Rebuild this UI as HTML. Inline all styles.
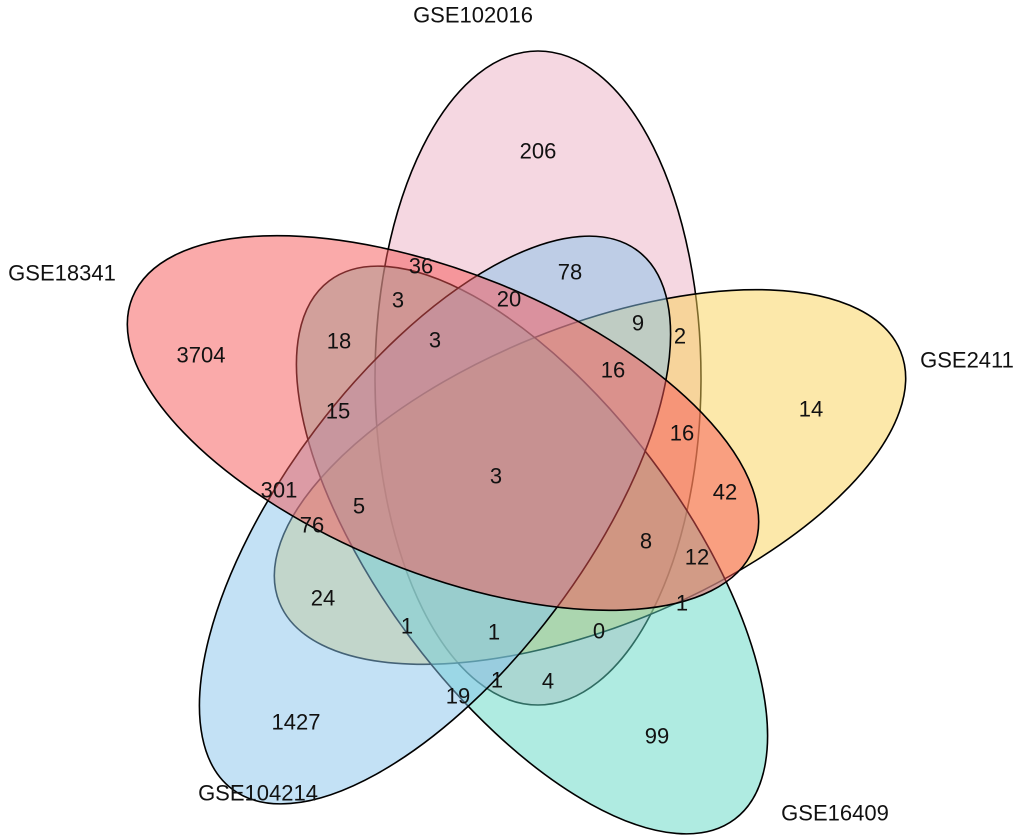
<!DOCTYPE html>
<html><head><meta charset="utf-8"><style>
html,body{margin:0;padding:0;background:#fff;overflow:hidden;width:1020px;height:837px;}
svg{display:block;}
svg text{font-family:"Liberation Sans",Arial,sans-serif;font-size:22px;fill:#111;text-anchor:middle;dominant-baseline:central;}
</style></head><body>
<svg width="1020" height="837" viewBox="0 0 1020 837" xmlns="http://www.w3.org/2000/svg">
<g stroke="#000" stroke-width="1.6">
<ellipse cx="538" cy="378" rx="163" ry="327" fill="rgb(235,175,195)" fill-opacity="0.5"/>
<ellipse cx="590" cy="477" rx="335" ry="150" transform="rotate(-22 590 477)" fill="rgb(250,210,85)" fill-opacity="0.5"/>
<ellipse cx="532" cy="550" rx="337" ry="150" transform="rotate(53 532 550)" fill="rgb(95,215,195)" fill-opacity="0.5"/>
<ellipse cx="435" cy="520" rx="337" ry="150" transform="rotate(-53 435 520)" fill="rgb(135,195,235)" fill-opacity="0.5"/>
<ellipse cx="443" cy="423" rx="335" ry="150" transform="rotate(22 443 423)" fill="rgb(245,85,85)" fill-opacity="0.5"/>
</g>
<text x="473" y="15">GSE102016</text>
<text x="62" y="273">GSE18341</text>
<text x="967" y="360">GSE2411</text>
<text x="835" y="813">GSE16409</text>
<text x="258" y="793">GSE104214</text>
<text x="538" y="151">206</text>
<text x="201" y="355">3704</text>
<text x="811" y="409">14</text>
<text x="657" y="736">99</text>
<text x="296" y="722">1427</text>
<text x="421" y="266">36</text>
<text x="570" y="272">78</text>
<text x="398" y="300">3</text>
<text x="509" y="299">20</text>
<text x="339" y="341">18</text>
<text x="435" y="340">3</text>
<text x="638" y="323">9</text>
<text x="680" y="336">2</text>
<text x="613" y="370">16</text>
<text x="338" y="411">15</text>
<text x="682" y="433">16</text>
<text x="496" y="476">3</text>
<text x="725" y="492">42</text>
<text x="279" y="490">301</text>
<text x="359" y="506">5</text>
<text x="312" y="525">76</text>
<text x="646" y="541">8</text>
<text x="697" y="557">12</text>
<text x="323" y="598">24</text>
<text x="682" y="603">1</text>
<text x="407" y="626">1</text>
<text x="494" y="632">1</text>
<text x="599" y="631">0</text>
<text x="497" y="680">1</text>
<text x="548" y="681">4</text>
<text x="458" y="696">19</text>
</svg>
</body></html>
